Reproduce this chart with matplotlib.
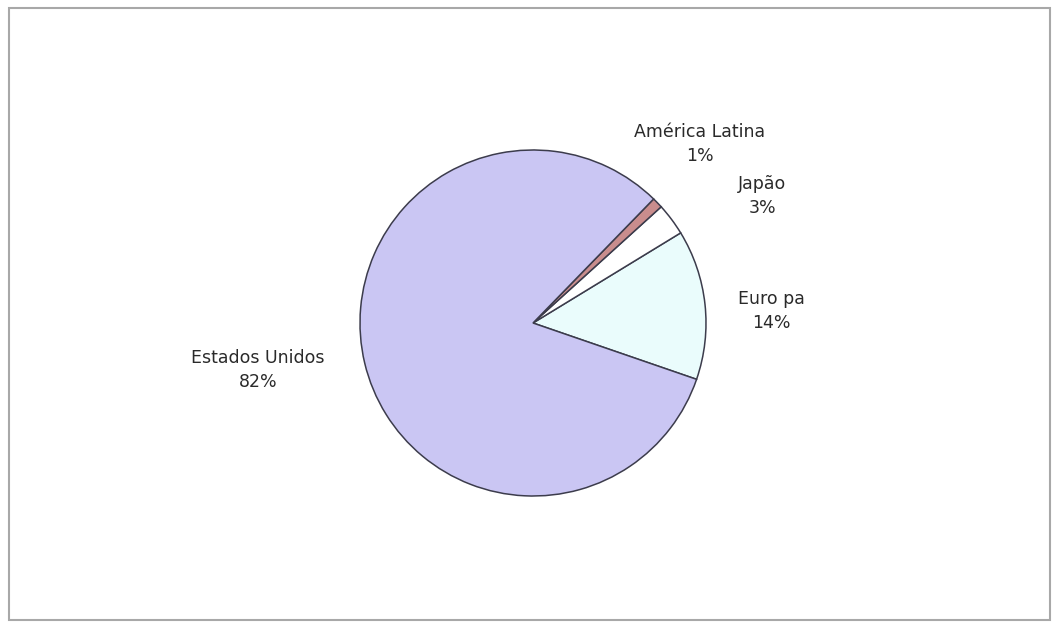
import matplotlib
matplotlib.use("Agg")
import matplotlib.pyplot as plt
from matplotlib.patches import Rectangle

# =========================
# DATOS
# =========================
regioes = ["Europa", "Japão", "América Latina", "Estados Unidos"]
percentuais = [14, 3, 1, 82]
rotulos = ["Euro pa", "Japão", "América Latina", "Estados Unidos"]
cores = ["#eafcfc", "#ffffff", "#c98d8d", "#cac6f3"]

# posicao dos rotulos (unidades do raio, centro em 0,0)
pos_x = [1.376, 1.324, 0.965, -1.59]
pos_y = [0.069, 0.734, 1.035, -0.27]

# =========================
# FIGURA
# =========================
fig = plt.figure(figsize=(10.57, 6.26), dpi=100)
fig.patch.set_facecolor("white")
ax = fig.add_axes([0, 0, 1, 1])

ax.pie(percentuais, colors=cores, startangle=-19, counterclock=True,
       wedgeprops=dict(edgecolor="#3c3c4c", linewidth=1.1))

esc = 173.0
ax.set_xlim(-533 / esc, (1057 - 533) / esc)
ax.set_ylim(-(626 - 323) / esc, 323 / esc)
ax.set_aspect("auto")
ax.axis("off")

for rot, p, x, y in zip(rotulos, percentuais, pos_x, pos_y):
    ax.text(x, y, f"{rot}\n{p}%", ha="center", va="center",
            fontsize=12.5, family=["DejaVu Sans"],
            color="#2a2a2a", linespacing=1.45)

# moldura
fig.patches.append(Rectangle((9 / 1057, 6 / 626), 1041 / 1057, 612 / 626,
                             transform=fig.transFigure, fill=False,
                             edgecolor="#a8a8a8", linewidth=1.5))

fig.savefig("out.png", dpi=100)
